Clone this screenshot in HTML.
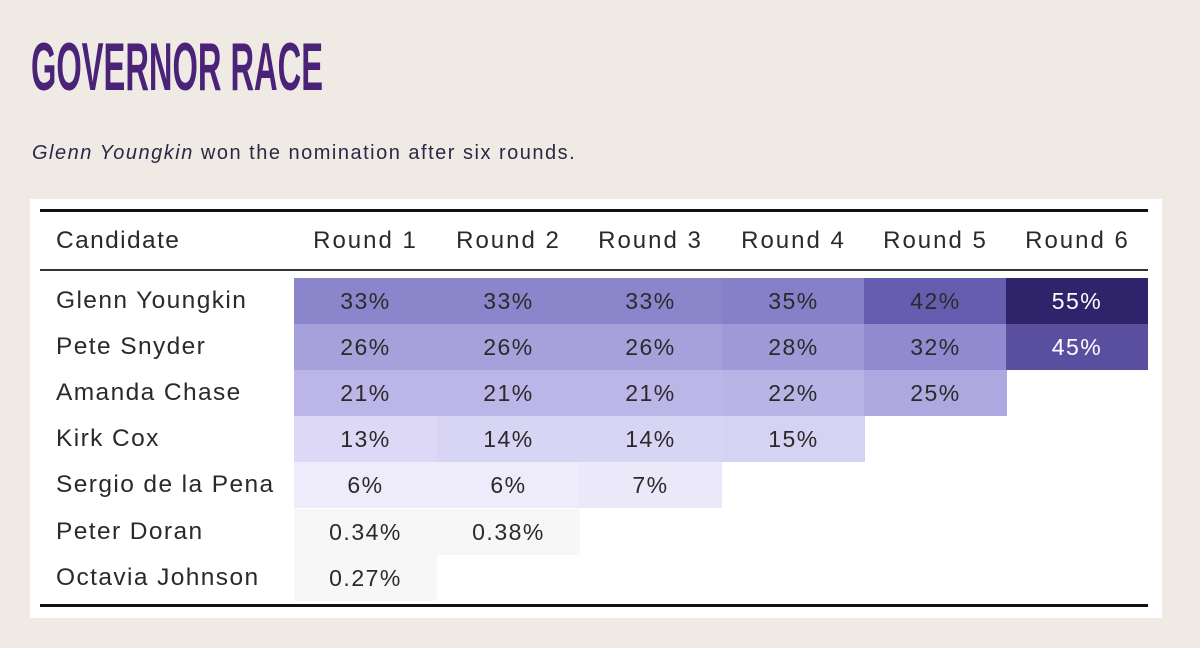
<!DOCTYPE html>
<html><head><style>
body{margin:0;width:1200px;height:648px;background:#efebe4;position:relative;overflow:hidden;font-family:"Liberation Sans",sans-serif}
.t{position:absolute;left:31px;top:28px;font-family:"Liberation Sans Narrow","Liberation Sans",sans-serif;font-weight:bold;font-size:68px;color:#4a2278;transform:scaleX(0.48);transform-origin:left;letter-spacing:0px}
.s{position:absolute;left:32px;top:142px;font-size:20px;color:#2a2846;letter-spacing:1.5px}
.p{position:absolute;left:30px;top:199px;width:1132px;height:419px;background:#fff}
.r{position:absolute;left:40px;width:1108px;background:#111}
.c{position:absolute;height:46px;line-height:46px;text-align:center;font-size:23px;color:#2a2a2a;width:143px;letter-spacing:1.5px}
.h{font-size:24px;letter-spacing:2px}
.n{position:absolute;left:56px;height:46px;line-height:46px;font-size:24.5px;color:#2a2a2a;letter-spacing:1.4px}
</style></head><body>
<div class="t">GOVERNOR RACE</div>
<div class="s"><i>Glenn Youngkin</i> won the nomination after six rounds.</div>
<div class="p"></div>
<div class="r" style="top:209px;height:3px"></div>
<div class="r" style="top:269px;height:2px;background:#333"></div>
<div class="r" style="top:604px;height:3px"></div>
<div class="n" style="top:218px">Candidate</div>
<div class="c h" style="top:218px;left:294px">Round 1</div>
<div class="c h" style="top:218px;left:437px">Round 2</div>
<div class="c h" style="top:218px;left:579px">Round 3</div>
<div class="c h" style="top:218px;left:722px">Round 4</div>
<div class="c h" style="top:218px;left:864px">Round 5</div>
<div class="c h" style="top:218px;left:1006px">Round 6</div>

<div class="n" style="top:278px">Glenn Youngkin</div>
<div class="c" style="top:278px;left:294px;background:#8b86cc">33%</div>
<div class="c" style="top:278px;left:437px;background:#8b86cc">33%</div>
<div class="c" style="top:278px;left:579px;background:#8b86cc">33%</div>
<div class="c" style="top:278px;left:722px;background:#8580c8">35%</div>
<div class="c" style="top:278px;left:864px;background:#675db0">42%</div>
<div class="c" style="top:278px;left:1006px;width:142px;background:#2f246b;color:#fff">55%</div>

<div class="n" style="top:324px">Pete Snyder</div>
<div class="c" style="top:324px;left:294px;background:#a6a1db">26%</div>
<div class="c" style="top:324px;left:437px;background:#a6a1db">26%</div>
<div class="c" style="top:324px;left:579px;background:#a6a1db">26%</div>
<div class="c" style="top:324px;left:722px;background:#9f99d7">28%</div>
<div class="c" style="top:324px;left:864px;background:#918ad0">32%</div>
<div class="c" style="top:324px;left:1006px;width:142px;background:#5a4f9e;color:#fff">45%</div>

<div class="n" style="top:370px">Amanda Chase</div>
<div class="c" style="top:370px;left:294px;background:#bbb6e7">21%</div>
<div class="c" style="top:370px;left:437px;background:#bbb6e7">21%</div>
<div class="c" style="top:370px;left:579px;background:#bbb6e7">21%</div>
<div class="c" style="top:370px;left:722px;background:#b9b4e6">22%</div>
<div class="c" style="top:370px;left:864px;background:#aea8e0">25%</div>

<div class="n" style="top:416px">Kirk Cox</div>
<div class="c" style="top:416px;left:294px;background:#dcd8f5">13%</div>
<div class="c" style="top:416px;left:437px;background:#d8d4f4">14%</div>
<div class="c" style="top:416px;left:579px;background:#d8d4f4">14%</div>
<div class="c" style="top:416px;left:722px;background:#d6d2f3">15%</div>

<div class="n" style="top:462px">Sergio de la Pena</div>
<div class="c" style="top:462px;left:294px;background:#eeebfb">6%</div>
<div class="c" style="top:462px;left:437px;background:#eeebfb">6%</div>
<div class="c" style="top:462px;left:579px;background:#ebe8fa">7%</div>

<div class="n" style="top:509px">Peter Doran</div>
<div class="c" style="top:509px;left:294px;background:#f7f7f7">0.34%</div>
<div class="c" style="top:509px;left:437px;background:#f7f7f7">0.38%</div>

<div class="n" style="top:555px">Octavia Johnson</div>
<div class="c" style="top:555px;left:294px;background:#f7f7f7">0.27%</div>
</body></html>
